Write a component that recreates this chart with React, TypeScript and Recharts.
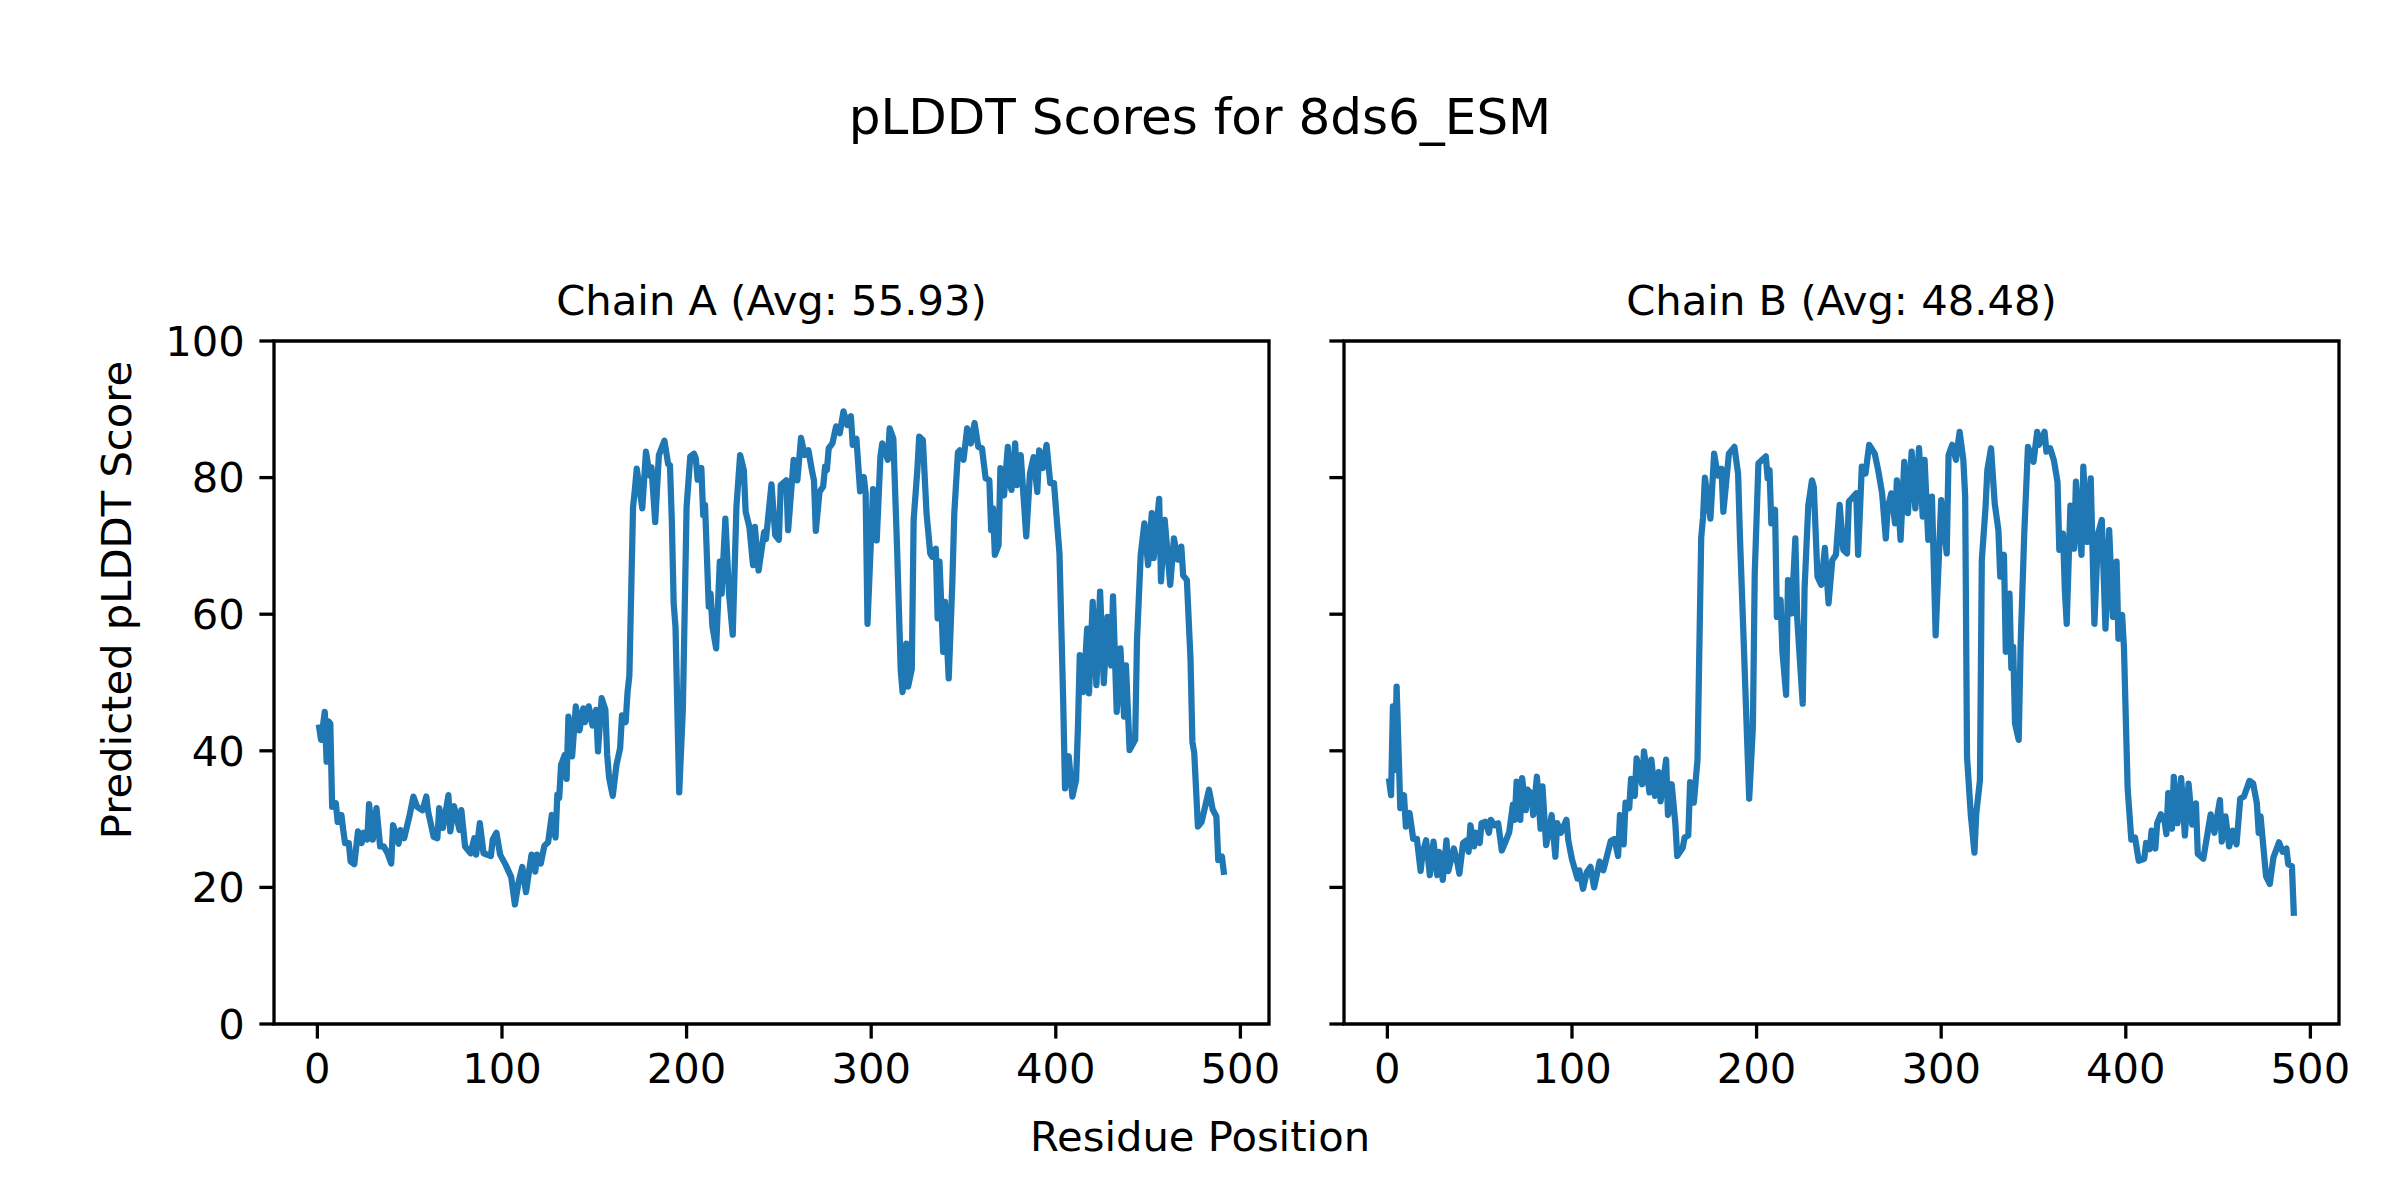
import { LineChart, Line, XAxis, YAxis, ReferenceArea } from "recharts";

// [residue, pLDDT]
const chainA: [number, number][] = [
  [1, 43.4], [2, 41.6], [4, 45.7], [5, 38.4], [6, 44.3], [7, 44], [8, 31.8], [10, 32.3], [11, 29.6], [13, 30.6],
  [14, 28.4], [15, 26.5], [17, 26.5], [18, 23.8], [20, 23.4], [22, 28.2], [24, 26.5], [25, 28], [27, 27], [28, 32.2],
  [30, 27], [32, 31.6], [34, 26], [36, 26], [38, 25], [40, 23.5], [41, 29.1], [44, 26.4], [45, 28.4], [47, 27.2],
  [50, 30.6], [52, 33.3], [54, 31.8], [57, 31.3], [59, 33.3], [60, 31.1], [63, 27.4], [65, 27.2], [66, 31.6], [68, 28.7],
  [71, 33.5], [72, 28.2], [74, 31.9], [77, 28.4], [78, 31.3], [80, 26], [83, 25], [85, 27.2], [86, 24.8], [88, 29.4],
  [90, 25], [94, 24.6], [95, 27], [97, 28], [99, 24.8], [102, 23.3], [105, 21.5], [107, 17.5], [109, 20.8], [111, 23],
  [113, 19.3], [116, 24.8], [118, 22.3], [119, 24.8], [121, 23.5], [123, 26.1], [125, 26.6], [127, 30.6], [129, 27.3], [130, 33.6],
  [131, 33.1], [132, 37.9], [134, 39.4], [135, 35.9], [136, 45], [138, 39.2], [140, 46.5], [142, 43], [144, 46.2], [145, 44.2],
  [147, 46.5], [149, 43.7], [151, 46], [152, 39.9], [154, 47.7], [156, 46], [157, 39.4], [158, 36.1], [160, 33.4], [162, 37.9],
  [164, 40.4], [165, 45.2], [167, 44.2], [168, 48.5], [169, 51], [171, 75.7], [172, 78.3], [173, 81.3], [176, 75.5], [178, 83.8],
  [180, 80.3], [181, 81.5], [183, 73.5], [185, 83.3], [188, 85.4], [190, 82], [191, 81.8], [192, 73.7], [193, 61.6], [194, 58.1],
  [196, 33.9], [198, 46.2], [200, 75.7], [202, 83.1], [204, 83.5], [205, 82.8], [206, 79.7], [208, 81.4], [209, 74.5], [210, 76],
  [212, 61.1], [213, 63], [214, 58.2], [216, 55], [218, 67.7], [219, 63], [221, 74], [223, 63], [225, 57], [227, 75.7],
  [229, 83.3], [231, 81.1], [232, 75], [234, 72.8], [236, 67.2], [237, 72.8], [239, 66.4], [242, 72], [243, 71], [246, 79],
  [248, 71.6], [250, 70.9], [251, 78.9], [254, 79.6], [255, 72.3], [258, 82.6], [260, 79.6], [262, 85.8], [264, 83.3], [266, 84],
  [268, 80.9], [269, 79.6], [270, 72.2], [272, 77.9], [274, 78.7], [275, 81.6], [276, 81.1], [277, 84.3], [279, 85], [281, 87.5],
  [283, 86.5], [285, 89.7], [287, 87.7], [289, 89], [290, 84.8], [292, 85.7], [294, 78], [296, 80.1], [297, 77.7], [298, 58.6],
  [301, 78.3], [303, 70.8], [305, 83.1], [306, 85], [309, 82.6], [310, 87.2], [312, 85.7], [314, 69.9], [316, 51.8], [317, 48.6],
  [319, 55.7], [320, 49.4], [322, 52], [323, 73.8], [325, 81.1], [326, 86], [328, 85.5], [330, 74.7], [332, 68.9], [333, 68.4],
  [335, 69.6], [336, 59.4], [337, 67.7], [339, 54.5], [340, 61.8], [342, 50.6], [344, 65], [345, 74.7], [347, 83.7], [348, 84],
  [350, 82.6], [352, 87.2], [354, 85], [356, 88], [358, 84.5], [360, 84.3], [362, 79.9], [364, 79.6], [365, 72.3], [366, 75.5],
  [367, 68.7], [369, 70.1], [370, 81.4], [372, 77.4], [374, 84.5], [375, 79.6], [376, 78.2], [378, 85], [379, 78.9], [381, 83.3],
  [384, 71.4], [386, 80.6], [388, 83], [390, 77.9], [391, 84], [393, 81.4], [395, 84.8], [397, 79.2], [399, 79.2], [402, 68.9],
  [404, 47.4], [405, 34.5], [407, 39.2], [409, 33.3], [411, 35.7], [412, 43.5], [413, 54], [415, 48.6], [417, 57.9], [418, 48.4],
  [420, 61.8], [422, 49.6], [424, 63.3], [426, 49.9], [428, 59.6], [430, 52.5], [431, 62.6], [433, 45.7], [435, 55], [437, 45],
  [438, 52.5], [440, 40.1], [443, 41.6], [444, 56.2], [446, 68.7], [448, 73.3], [449, 70.1], [450, 67.2], [452, 74.8], [453, 68.2],
  [456, 76.9], [457, 64.8], [459, 73.8], [462, 64.3], [464, 71.1], [466, 68], [468, 69.9], [469, 65.7], [471, 65], [473, 53.3],
  [474, 41.3], [475, 39.7], [477, 28.9], [479, 29.6], [483, 34.3], [485, 31.4], [487, 30.4], [488, 24], [490, 24.5], [491, 22.3],
];

const chainB: [number, number][] = [
  [1, 35.5], [2, 33.5], [3, 46.5], [4, 37.2], [5, 49.4], [7, 31.6], [9, 33.5], [10, 28.9], [12, 30.9], [14, 27.1],
  [16, 27.1], [18, 22.4], [19, 24.9], [21, 26.9], [23, 21.8], [25, 26.7], [27, 21.8], [28, 25.2], [30, 21.1], [32, 26.9],
  [33, 22.4], [36, 25.7], [38, 23.5], [39, 22], [41, 26.5], [43, 26.9], [44, 25.2], [45, 29.1], [47, 26], [48, 28],
  [50, 26.5], [51, 29.4], [53, 29.6], [55, 28], [56, 29.9], [58, 29.1], [60, 29.4], [62, 25.4], [64, 26.7], [66, 28.1],
  [68, 32.1], [69, 29.9], [70, 35.5], [72, 29.9], [73, 36], [75, 31.3], [76, 34.3], [78, 33.7], [79, 30.6], [81, 36.2],
  [83, 28.6], [84, 34.8], [86, 26.2], [88, 28.9], [89, 30.6], [91, 24.5], [92, 29.4], [94, 28], [97, 29.9], [98, 26.9],
  [100, 24.1], [103, 21.3], [104, 22.5], [106, 19.8], [108, 22.2], [110, 23], [112, 20], [115, 23.8], [117, 22.5], [121, 26.8],
  [123, 27.1], [125, 24.6], [126, 30.6], [128, 26.3], [129, 32.4], [131, 31.6], [132, 35.9], [134, 33.4], [135, 38.9], [138, 35.1],
  [139, 39.9], [142, 33.9], [143, 38.7], [145, 33.4], [147, 36.9], [148, 32.6], [151, 38.7], [152, 30.6], [154, 35.1], [156, 29.3],
  [157, 24.6], [160, 25.8], [161, 27.3], [163, 27.6], [164, 35.4], [166, 32.4], [168, 38.7], [170, 71.2], [171, 74.2], [172, 80],
  [175, 74], [177, 83.5], [179, 80.3], [181, 81.3], [182, 75], [185, 83.5], [188, 84.5], [190, 80.5], [191, 71.2], [193, 56.1],
  [196, 33], [198, 43.5], [199, 66], [201, 82.1], [203, 82.6], [205, 83.1], [206, 79.9], [207, 81.1], [208, 73.3], [210, 75.3],
  [211, 59.6], [213, 62.1], [214, 54.5], [216, 48.2], [217, 65], [219, 60.1], [221, 71.1], [222, 59.4], [225, 46.9], [226, 63.8],
  [228, 75.9], [230, 79.6], [231, 78.6], [233, 65.5], [235, 64.3], [237, 69.7], [239, 61.6], [241, 67.9], [243, 68.7], [245, 76],
  [247, 69.4], [249, 68.9], [250, 76.5], [254, 77.7], [255, 68.7], [257, 81.6], [259, 80.6], [261, 84.8], [264, 83.5], [266, 80.9],
  [268, 77.7], [270, 71.1], [271, 75.5], [273, 77.7], [275, 73.3], [276, 79.6], [278, 70.9], [280, 82.3], [282, 74.8], [284, 83.8],
  [286, 75.5], [288, 84.3], [290, 74.3], [291, 82.6], [293, 70.9], [295, 77.2], [297, 56.9], [300, 76.7], [303, 68.9], [304, 83.3],
  [306, 84.8], [308, 82.6], [310, 86.7], [312, 82.6], [313, 77.2], [314, 39.1], [316, 30.8], [318, 25.1], [319, 30.8], [321, 35.7],
  [322, 67.9], [324, 75.5], [325, 81.1], [327, 84.3], [329, 76.2], [331, 72.3], [332, 65.5], [334, 68.7], [335, 54.5], [337, 63],
  [338, 52.1], [339, 55.2], [340, 44], [342, 41.6], [343, 55.2], [345, 71.8], [347, 84.5], [350, 82.3], [352, 86.7], [353, 84.8],
  [356, 86.7], [357, 83.8], [359, 84.3], [361, 82.6], [363, 79.4], [364, 69.4], [366, 71.8], [367, 63.5], [368, 58.6], [370, 75.9],
  [372, 69.6], [373, 79.4], [376, 68.7], [377, 81.6], [379, 70.6], [381, 79.9], [383, 58.6], [385, 71.8], [387, 73.8], [389, 57.9],
  [391, 72.3], [393, 59.6], [395, 67.7], [396, 56.4], [398, 59.9], [399, 55.2], [401, 34.5], [403, 27], [405, 27.3], [407, 23.9],
  [410, 24.2], [411, 26.5], [413, 25.6], [414, 28.3], [416, 25.7], [417, 29.4], [419, 30.7], [421, 29.7], [422, 27.8], [423, 33.8],
  [425, 28.6], [426, 36.2], [428, 29.4], [430, 36], [432, 27.6], [434, 35.2], [436, 29.2], [438, 32.3], [439, 24.9], [442, 24.2],
  [446, 30.7], [448, 28], [451, 32.8], [452, 26.7], [454, 30.4], [456, 26], [458, 28.3], [460, 26.3], [462, 33], [464, 33.3],
  [467, 35.6], [469, 35.2], [471, 32.3], [472, 28], [473, 30.4], [476, 21.6], [478, 20.5], [480, 24.4], [483, 26.6], [485, 25.2],
  [487, 25.7], [488, 23.4], [490, 23.1], [491, 16.3],
];

const xTicks = [0, 100, 200, 300, 400, 500];
const yTicks = [0, 20, 40, 60, 80, 100];
const xDomain: [number, number] = [-23.5, 515.5];

const FONT = "'DejaVu Sans', sans-serif";
const BLUE = "#1f77b4";
const tickFont = { fontFamily: FONT, fontSize: 41.7, fill: "#000" };

// shared y axis: right panel keeps the tick marks but drops the labels
const NoLabel = () => <g />;

function Panel({ rows, showYLabels, width, margin }: {
  rows: [number, number][]; showYLabels: boolean; width: number;
  margin: { top: number; right: number; bottom: number; left: number };
}) {
  const data = rows.map(([pos, score]) => ({ pos, score }));
  return (
    <LineChart width={width} height={1200} data={data} margin={margin}>
      <XAxis dataKey="pos" type="number" domain={xDomain} ticks={xTicks} allowDataOverflow
        height={60} axisLine={false} tickSize={14.6} tickMargin={14.6}
        tickLine={{ stroke: "#000", strokeWidth: 3.3 }} tick={tickFont} />
      <YAxis type="number" domain={[0, 100]} ticks={yTicks} allowDataOverflow
        width={showYLabels ? 100 : 30} axisLine={false} tickSize={14.6} tickMargin={14.6}
        tickLine={{ stroke: "#000", strokeWidth: 3.3 }} tick={showYLabels ? tickFont : NoLabel} />
      <Line dataKey="score" type="linear" stroke={BLUE} strokeWidth={6.25} dot={false}
        strokeLinejoin="round" strokeLinecap="square" isAnimationActive={false} />
      <ReferenceArea x1={xDomain[0]} x2={xDomain[1]} y1={0} y2={100} fill="none" fillOpacity={0}
        stroke="#000" strokeWidth={3.3} />
    </LineChart>
  );
}

export default function App() {
  return (
    <div style={{ position: "absolute", left: 0, top: 0, width: 2400, height: 1200, background: "#fff" }}>
      <div style={{ position: "absolute", left: 0, top: 0 }}>
        <Panel rows={chainA} showYLabels width={1300} margin={{ top: 341, right: 31, bottom: 116, left: 174 }} />
      </div>
      <div style={{ position: "absolute", left: 1300, top: 0 }}>
        <Panel rows={chainB} showYLabels={false} width={1100} margin={{ top: 341, right: 61, bottom: 116, left: 14 }} />
      </div>
      <svg width={2400} height={1200} style={{ position: "absolute", left: 0, top: 0, pointerEvents: "none" }}
        fontFamily={FONT} fill="#000">
        <text x={1200} y={134} textAnchor="middle" fontSize={50}>pLDDT Scores for 8ds6_ESM</text>
        <text x={771.5} y={315} textAnchor="middle" fontSize={41.7}>Chain A (Avg: 55.93)</text>
        <text x={1841.5} y={315} textAnchor="middle" fontSize={41.7}>Chain B (Avg: 48.48)</text>
        <text x={1200} y={1151} textAnchor="middle" fontSize={41.7}>Residue Position</text>
        <text x={131} y={600} textAnchor="middle" fontSize={41.7} transform="rotate(-90 131 600)">
          Predicted pLDDT Score
        </text>
      </svg>
    </div>
  );
}
